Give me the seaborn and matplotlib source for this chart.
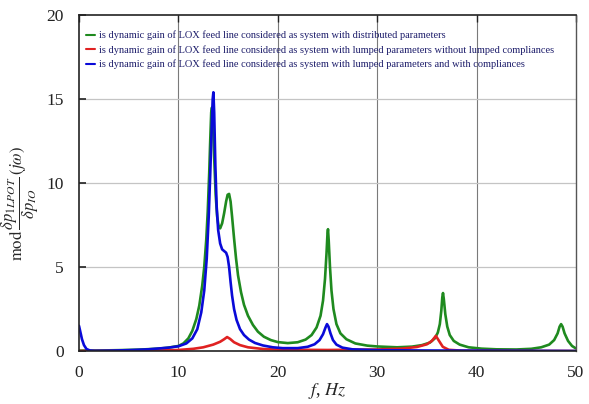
import numpy as np
import pandas as pd
import matplotlib
matplotlib.use("Agg")
import matplotlib.pyplot as plt
import seaborn as sns

# --- data ---
f_distributed = [0, 2, 4, 6, 8, 9, 10, 10.5, 11, 11.4, 11.8, 12.1, 12.4, 12.6, 12.8, 12.95, 13.1, 13.2, 13.3,
                 13.38, 13.48, 13.6, 13.75, 13.9, 14.05, 14.2, 14.4, 14.6, 14.8, 14.95, 15.1, 15.25, 15.4,
                 15.6, 15.8, 16.0, 16.3, 16.6, 17.0, 17.5, 18.0, 18.6, 19.3, 20, 21, 22, 22.8, 23.4, 23.9,
                 24.3, 24.55, 24.75, 24.9, 25.0, 25.05, 25.12, 25.25, 25.4, 25.6, 25.9, 26.3, 26.9, 27.8, 29,
                 30, 32, 33.5, 34.5, 35.3, 35.8, 36.1, 36.3, 36.45, 36.55, 36.62, 36.7, 36.85, 37.05, 37.3,
                 37.7, 38.3, 39.2, 40.5, 42, 44, 45.5, 46.5, 47.3, 47.8, 48.15, 48.35, 48.5, 48.65, 48.85,
                 49.2, 49.6, 50]
g_distributed = [0.02, 0.03, 0.05, 0.08, 0.14, 0.2, 0.3, 0.45, 0.75, 1.2, 1.9, 2.7, 3.9, 5.0, 6.6, 8.3, 10.6,
                 12.5, 14.2, 14.5, 13.6, 11.5, 9.3, 8.0, 7.4, 7.3, 7.6, 8.2, 8.9, 9.3, 9.35, 8.9, 8.0,
                 6.7, 5.5, 4.5, 3.5, 2.75, 2.1, 1.55, 1.15, 0.85, 0.65, 0.53, 0.47, 0.52, 0.68, 0.95, 1.4,
                 2.1, 3.0, 4.3, 5.8, 7.0, 7.25, 6.6, 5.0, 3.6, 2.5, 1.6, 1.05, 0.7, 0.45, 0.32,
                 0.27, 0.22, 0.26, 0.35, 0.5, 0.75, 1.1, 1.6, 2.4, 3.2, 3.45, 3.1, 2.2, 1.45, 0.95,
                 0.6, 0.38, 0.22, 0.14, 0.1, 0.09, 0.13, 0.22, 0.38, 0.65, 1.05, 1.45, 1.6, 1.45, 1.05,
                 0.6, 0.3, 0.15]

f_lumped = [0, 5, 8, 10, 11.5, 12.5, 13.5, 14.2, 14.6, 14.9, 15.2, 15.6, 16.2, 17, 18.5, 20, 25, 30, 32.5,
            34, 35, 35.5, 35.9, 36.2, 36.6, 37.2, 38.5, 42, 50]
g_lumped = [0.0, 0.01, 0.03, 0.06, 0.13, 0.22, 0.38, 0.55, 0.7, 0.83, 0.72, 0.52, 0.35, 0.22, 0.12, 0.08,
            0.06, 0.09, 0.14, 0.24, 0.4, 0.6, 0.9, 0.62, 0.25, 0.07, 0.02, 0.01, 0.0]

f_compl = [0, 0.15, 0.3, 0.5, 0.75, 1.1, 1.6, 3, 5, 7, 9, 10, 10.8, 11.4, 11.9, 12.3, 12.6, 12.85, 13.05,
           13.2, 13.35, 13.45, 13.52, 13.6, 13.72, 13.85, 14.0, 14.2, 14.4, 14.6, 14.8, 14.95, 15.1, 15.25,
           15.4, 15.6, 15.85, 16.2, 16.6, 17.1, 17.7, 18.5, 19.5, 20.5, 22, 23, 23.7, 24.2, 24.55, 24.8,
           24.95, 25.1, 25.3, 25.55, 25.9, 26.5, 27.5, 30, 35, 40, 50]
g_compl = [1.5, 1.1, 0.7, 0.35, 0.12, 0.03, 0.01, 0.02, 0.05, 0.1, 0.2, 0.28, 0.45, 0.75, 1.3, 2.3, 3.6,
           5.5, 8.0, 10.5, 13.3, 15.0, 15.4, 14.2, 11.0, 8.6, 7.2, 6.4, 6.05, 5.95, 5.85, 5.6, 5.0, 4.1,
           3.3, 2.5, 1.85, 1.3, 0.95, 0.68, 0.48, 0.33, 0.22, 0.17, 0.17, 0.25, 0.4, 0.65, 1.0, 1.4,
           1.6, 1.45, 1.05, 0.65, 0.38, 0.2, 0.1, 0.05, 0.03, 0.02, 0.0]

labels = [
    "is dynamic gain of LOX feed line considered as system with distributed parameters",
    "is dynamic gain of LOX feed line considered as system with lumped parameters without lumped compliances",
    "is dynamic gain of LOX feed line considered as system with lumped parameters and with compliances",
]
colors = ["#1f8a1f", "#e02222", "#0a0ad8"]
x_ticks = [0, 10, 20, 30, 40, 50]
y_ticks = [0, 5, 10, 15, 20]

df = pd.concat([
    pd.DataFrame({"f": f_distributed, "g": g_distributed, "series": labels[0]}),
    pd.DataFrame({"f": f_lumped, "g": g_lumped, "series": labels[1]}),
    pd.DataFrame({"f": f_compl, "g": g_compl, "series": labels[2]}),
], ignore_index=True)

sns.set_style("white")
plt.rcParams["font.family"] = ["Liberation Serif", "DejaVu Serif"]
plt.rcParams["mathtext.fontset"] = "stix"

fig = plt.figure(figsize=(5.89, 4.04), dpi=100)
ax = fig.add_axes([79 / 589, 1 - 351 / 404, (576 - 79) / 589, (351 - 15) / 404])

sns.lineplot(data=df, x="f", y="g", hue="series", hue_order=labels,
             palette=dict(zip(labels, colors)), linewidth=1.9, ax=ax, sort=False,
             estimator=None)

ax.set_xlim(0, 50)
ax.set_ylim(0, 20)
ax.set_xticks(x_ticks)
ax.set_yticks(y_ticks)
for v in x_ticks[1:-1]:
    ax.axvline(v, color="#7a7a7a", lw=0.8, zorder=0)
for v in y_ticks[1:-1]:
    ax.axhline(v, color="#c4c4c4", lw=0.9, zorder=0)

for side in ["left", "bottom", "top"]:
    ax.spines[side].set_color("#222222")
    ax.spines[side].set_linewidth(1.2)
ax.spines["right"].set_color("#555555")
ax.spines["right"].set_linewidth(1.0)

ax.tick_params(axis="both", labelsize=12.5, colors="#222222")
ax.tick_params(axis="y", direction="in", length=5, width=1.2, left=True, pad=11)
ax.tick_params(axis="x", direction="in", length=5, width=1.0, bottom=False, top=True, pad=10)

ax.set_xlabel("$f$, $Hz$", fontsize=13, labelpad=0)
ax.set_ylabel(r"$\mathrm{mod}\,\dfrac{\delta p_{1LPOT}}{\delta p_{IO}}\,(j\omega)$", fontsize=12)
ax.yaxis.set_label_coords(-0.077, 0.44)

handles, labs = ax.get_legend_handles_labels()
leg = ax.legend(handles, labs, loc="upper left", bbox_to_anchor=(0.0, 0.975), frameon=False,
                fontsize=7.5, handlelength=0.8, handletextpad=0.4, labelspacing=0.45,
                borderaxespad=0.3, labelcolor="#1c1c6a")
for h in leg.get_lines():
    h.set_linewidth(1.5)

fig.savefig("out.png", dpi=100)
